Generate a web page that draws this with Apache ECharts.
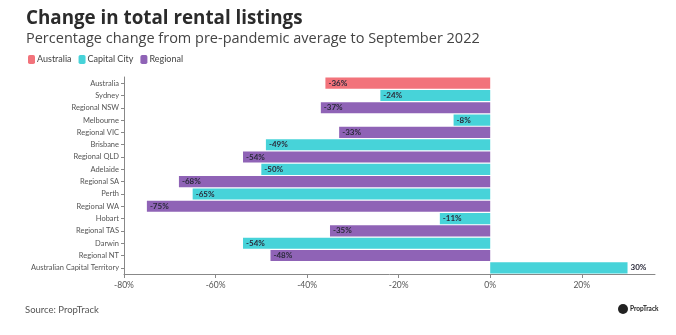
<!DOCTYPE html>
<html><head><meta charset="utf-8">
<script src="https://cdn.jsdelivr.net/npm/echarts@6/dist/echarts.min.js"></script>
<style>html,body{margin:0;padding:0;background:#fff}#c{width:676px;height:335px}</style>
</head><body><div id="c"></div>
<script>
const categories = ["Australia","Sydney","Regional NSW","Melbourne","Regional VIC","Brisbane","Regional QLD","Adelaide","Regional SA","Perth","Regional WA","Hobart","Regional TAS","Darwin","Regional NT","Australian Capital Territory"];
const groups = ["Australia","Capital City","Regional","Capital City","Regional","Capital City","Regional","Capital City","Regional","Capital City","Regional","Capital City","Regional","Capital City","Regional","Capital City"];
const values = [-36,-24,-37,-8,-33,-49,-54,-50,-68,-65,-75,-11,-35,-54,-48,30];
const seriesNames = ["Australia","Capital City","Regional"];
const colors = ["#f2737b","#47d3d9","#8f63b6"];
const tickValues = [-80,-60,-40,-20,0,20];

const FONT = "Lato, 'Open Sans', sans-serif";
const TFONT = "'Open Sans', sans-serif";
const chart = echarts.init(document.getElementById('c'));
const series = seriesNames.map((name, si) => ({
  name, type: 'bar', barGap: '-100%', barCategoryGap: '10%',
  itemStyle: {color: colors[si]},
  label: {show: true, position: 'insideLeft', distance: 3, color: '#2a2a3a', fontSize: 8, fontWeight: 'bold', fontFamily: FONT,
    formatter: p => (typeof p.value === 'number' && !isNaN(p.value)) ? p.value + '%' : ''},
  data: values.map((v, i) => {
    if (groups[i] !== name) return '-';
    if (v > 0) return {value: v, label: {position: 'right'}};
    return v;
  })
}));
chart.setOption({
  animation: false,
  textStyle: {fontFamily: FONT},
  title: [
    {text: 'Change in total rental listings', left: 21, top: 4, textStyle: {fontSize: 18.8, fontWeight: 'bold', color: '#2b2b2b', fontFamily: TFONT}},
    {text: 'Percentage change from pre-pandemic average to September 2022', left: 21, top: 26, textStyle: {fontSize: 14.5, fontWeight: 'normal', color: '#444', fontFamily: TFONT}}
  ],
  legend: {left: 23, top: 50, itemWidth: 7, itemHeight: 9, itemGap: 7, icon: 'roundRect',
    textStyle: {fontSize: 9, color: '#444', padding: [0,0,0,-3]}, data: seriesNames},
  grid: {left: 124, right: 21, top: 77, bottom: 61},
  xAxis: {type: 'value', min: -80, max: 36, interval: 20,
    splitLine: {show: false},
    axisLine: {show: true, onZero: false, lineStyle: {color: '#888'}},
    axisTick: {show: true, length: 4, lineStyle: {color: '#888'}, customValues: tickValues},
    axisLabel: {fontSize: 8.5, color: '#555', margin: 7, formatter: v => v + '%', customValues: tickValues}
  },
  yAxis: {type: 'category', inverse: true, data: categories,
    axisLine: {show: true, onZero: false, lineStyle: {color: '#888'}},
    axisTick: {show: true, length: 3, alignWithLabel: true, lineStyle: {color: '#888'}},
    axisLabel: {fontSize: 7.5, color: '#555', margin: 5}
  },
  series,
  graphic: [
    {type: 'text', left: 25, top: 305, style: {text: 'Source: PropTrack', fontSize: 9.5, fill: '#555', fontFamily: FONT}},
    {type: 'circle', shape: {cx: 623, cy: 309, r: 5}, style: {fill: '#222'}},
    {type: 'text', left: 630, top: 305, style: {text: 'PropTrack', fontSize: 6.5, fill: '#222', fontWeight: 'bold', fontFamily: FONT}}
  ]
});
</script></body></html>
